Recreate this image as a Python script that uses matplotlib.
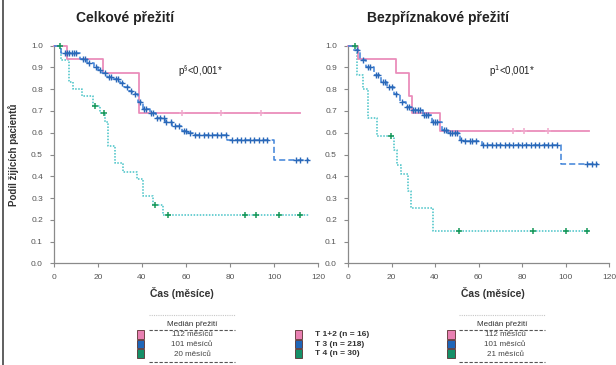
import numpy as np
import matplotlib
matplotlib.use("Agg")
import matplotlib.pyplot as plt
from matplotlib.lines import Line2D
from matplotlib.patches import Rectangle

plt.rcParams['font.family'] = ['Liberation Sans', 'DejaVu Sans']

W, H = 616, 365

# ---------------- data ----------------
titles = ["Celkové přežití", "Bezpříznakové přežití"]
p_text = ["p$^{§}$<0,001*", "p$^{1}$<0,001*"]
group_labels = ["T 1+2 (n = 16)", "T 3 (n = 218)", "T 4 (n = 30)"]
median_left = ["112 měsíců", "101 měsíců", "20 měsíců"]
median_right = ["112 měsíců", "101 měsíců", "21 měsíců"]
yticks = [0.0, 0.1, 0.2, 0.3, 0.4, 0.5, 0.6, 0.7, 0.8, 0.9, 1.0]
xticks = [0, 20, 40, 60, 80, 100, 120]

# overall survival
os_pink_t = [0, 6, 22.5, 38.5, 112]
os_pink_s = [1.0, 0.94, 0.875, 0.69, 0.69]
os_pink_c = [58, 76, 94]

os_blue_t = [0, 3, 12, 15, 18, 20, 22, 24, 27, 30, 32, 34, 35.5, 38, 40.5, 43.5, 46.5,
             50.5, 53.5, 58, 61, 63.3, 78.5, 100, 116]
os_blue_s = [1.0, 0.965, 0.94, 0.92, 0.9, 0.89, 0.875, 0.855, 0.845, 0.83, 0.81, 0.79,
             0.78, 0.74, 0.71, 0.69, 0.67, 0.65, 0.63, 0.61, 0.6, 0.59, 0.567, 0.475, 0.475]
os_blue_c = [5, 6, 7, 8, 9, 10, 13, 14, 16, 19, 21, 23, 25, 26, 28, 29, 31, 33, 35, 37,
             39, 41, 42, 44, 45, 47, 48, 50, 51, 53, 55, 57, 59, 60, 62, 64, 66, 68, 70,
             72, 74, 76, 78, 81, 83, 85, 87, 89, 91, 93, 95, 97, 110, 112, 115]

os_green_t = [0, 3, 7, 8.5, 12.6, 17.6, 21, 23, 24.7, 27.7, 31.5, 37.6, 40.6, 45, 49.7, 116]
os_green_s = [1.0, 0.933, 0.833, 0.8, 0.767, 0.723, 0.69, 0.651, 0.54, 0.462, 0.421,
              0.386, 0.309, 0.268, 0.222, 0.222]
os_green_c = [2.5, 18.6, 22.7, 46, 52, 87, 92, 102.5, 112]

# disease-free survival
dfs_pink_t = [0, 4.5, 22, 28, 29.5, 42.3, 111]
dfs_pink_s = [1.0, 0.94, 0.875, 0.77, 0.69, 0.61, 0.61]
dfs_pink_c = [76, 81, 92]

dfs_blue_t = [0, 2.4, 5.3, 8.3, 12, 15, 18, 21, 23.9, 26.8, 29.8, 34.3, 38.7, 43, 46,
              51.3, 52.7, 61.7, 98, 115]
dfs_blue_s = [1.0, 0.98, 0.934, 0.903, 0.866, 0.835, 0.81, 0.78, 0.743, 0.72, 0.705,
              0.68, 0.65, 0.613, 0.597, 0.567, 0.56, 0.544, 0.456, 0.456]
dfs_blue_c = [4, 7, 9, 10, 13, 14, 16, 17, 19, 20, 22, 25, 27, 28, 30, 31, 32, 33, 35,
              36, 37, 39, 40, 41, 44, 45, 47, 48, 49, 50, 52, 54, 56, 57, 59, 62, 64, 66,
              68, 70, 72, 74, 76, 78, 80, 82, 84, 86, 88, 90, 92, 94, 96, 110, 112, 114]

dfs_green_t = [0, 4, 7, 9, 13.5, 21, 22.5, 24.5, 27.6, 29, 39, 111]
dfs_green_s = [1.0, 0.867, 0.8, 0.667, 0.587, 0.52, 0.45, 0.41, 0.33, 0.255, 0.147, 0.147]
dfs_green_c = [3, 19.6, 51, 85, 100, 110]

pink = '#ea8dbb'
blue_line = '#3f82d8'
blue_mark = '#2a68b8'
green_line = '#45c2c6'
green_mark = '#17985a'
sq_colors = ['#e980b2', '#1f66b8', '#159068']

fig = plt.figure(figsize=(W / 100, H / 100), dpi=100)


def ax_rect(x0, x1, ytop, ybot):
    return [x0 / W, 1 - ybot / H, (x1 - x0) / W, (ybot - ytop) / H]


def step_val(t, s, x):
    i = np.searchsorted(np.asarray(t), x, side='right') - 1
    return np.asarray(s)[i]


def draw_curve(ax, t, s, cens, lc, ls, mc, lw, ms=4.5, mew=1.1):
    ax.step(t, s, where='post', color=lc, ls=ls, lw=lw, clip_on=False, zorder=3)
    cy = [step_val(t, s, c) for c in cens]
    ax.plot(cens, cy, ls='none', marker='+', ms=ms, mew=mew, color=mc, clip_on=False,
            zorder=4)


axes = [fig.add_axes(ax_rect(54, 318, 45.7, 263.3)),
        fig.add_axes(ax_rect(348, 609, 45.7, 263.3))]
data = [
    [(os_pink_t, os_pink_s, os_pink_c), (os_blue_t, os_blue_s, os_blue_c),
     (os_green_t, os_green_s, os_green_c)],
    [(dfs_pink_t, dfs_pink_s, dfs_pink_c), (dfs_blue_t, dfs_blue_s, dfs_blue_c),
     (dfs_green_t, dfs_green_s, dfs_green_c)],
]
p_pos = [(0.556, 0.885), (0.63, 0.885)]

for ax, d, ptxt, pp in zip(axes, data, p_text, p_pos):
    (pt, ps, pc), (bt, bs, bc), (gt, gs, gc) = d
    draw_curve(ax, gt, gs, gc, green_line, (0, (1, 1)), green_mark, 1.1)
    draw_curve(ax, pt, ps, pc, pink, '-', '#f0a8cc', 1.3)
    draw_curve(ax, bt, bs, bc, blue_line, (0, (4, 2)), blue_mark, 1.1, ms=4, mew=1.0)
    ax.set_xlim(0, 120)
    ax.set_ylim(0, 1.0)
    ax.set_yticks(yticks)
    ax.set_yticklabels([f"{v:.1f}" for v in yticks])
    ax.set_xticks(xticks)
    ax.set_xticklabels([str(v) for v in xticks])
    for sp in ['top', 'right']:
        ax.spines[sp].set_visible(False)
    for sp in ['left', 'bottom']:
        ax.spines[sp].set_color('#8a8a8a')
        ax.spines[sp].set_linewidth(0.9)
    ax.tick_params(axis='both', colors='#8a8a8a', labelcolor='#555555', labelsize=6,
                   length=3, width=0.8, pad=5)
    ax.text(pp[0], pp[1], ptxt, transform=ax.transAxes, fontsize=7, ha='center',
            va='center', color='#222222')

# titles
fig.text(125 / W, 1 - 18 / H, titles[0], fontsize=10, fontweight='bold', ha='center',
         va='center', color='#222222')
fig.text(438 / W, 1 - 18 / H, titles[1], fontsize=10, fontweight='bold', ha='center',
         va='center', color='#222222')

# axis labels
fig.text(14 / W, 1 - 155 / H, "Podíl žijících pacientů", rotation=90, fontsize=7,
         fontweight='bold', ha='center', va='center', color='#333333')
fig.text(182 / W, 1 - 293 / H, "Čas (měsíce)", fontsize=7.5, fontweight='bold',
         ha='center', va='center', color='#333333')
fig.text(493 / W, 1 - 293 / H, "Čas (měsíce)", fontsize=7.5, fontweight='bold',
         ha='center', va='center', color='#333333')

# left frame line
fig.add_artist(Line2D([3 / W, 3 / W], [0, 1], color='#444444', lw=1.2))


def hline(x0, x1, y, color, ls, lw=0.8):
    fig.add_artist(Line2D([x0 / W, x1 / W], [1 - y / H, 1 - y / H], color=color, ls=ls,
                          lw=lw))


def squares(xc, rows):
    for r, c in zip(rows, sq_colors):
        fig.add_artist(Rectangle(((xc - 3.8) / W, 1 - (r + 4.2) / H), 7.6 / W, 8.4 / H,
                                 facecolor=c, edgecolor='#5a3030', lw=0.6))


rows = [334.5, 344, 353.5]


def median_box(x0, x1, sqx, txc, labels):
    hline(x0, x1, 315, '#c8c8c8', (0, (1, 1)))
    fig.text((x0 + x1) / 2 / W, 1 - 324 / H, "Medián přežití", fontsize=5.8,
             ha='center', va='center', color='#333333')
    hline(x0, x1, 330, '#555555', (0, (3, 1.5)))
    hline(x0, x1, 362, '#555555', (0, (3, 1.5)))
    squares(sqx, rows)
    for r, lab in zip(rows, labels):
        fig.text(txc / W, 1 - (r + 0.5) / H, lab, fontsize=5.8, ha='center', va='center',
                 color='#444444')


median_box(149, 235, 140.5, 192, median_left)
median_box(459, 545, 451, 505, median_right)

squares(298.5, rows)
for r, lab in zip(rows, group_labels):
    fig.text(315 / W, 1 - r / H, lab, fontsize=6, fontweight='bold', ha='left',
             va='center', color='#333333')

fig.savefig("out.png", dpi=100)
